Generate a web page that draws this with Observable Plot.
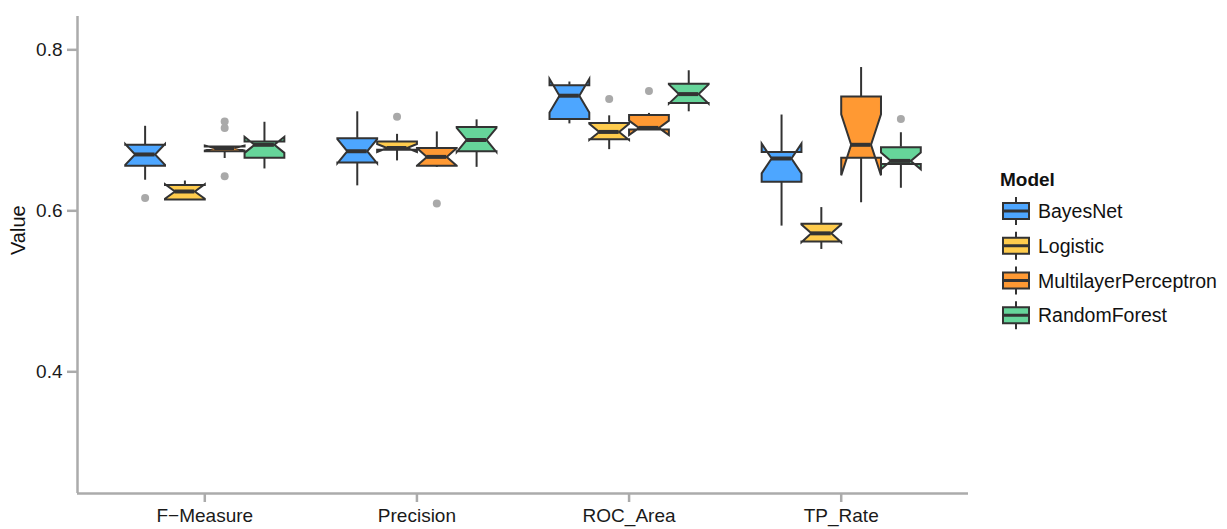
<!DOCTYPE html>
<html>
<head>
<meta charset="utf-8">
<script src="https://cdn.jsdelivr.net/npm/d3@7"></script>
<script src="https://cdn.jsdelivr.net/npm/@observablehq/plot@0.6"></script>
<style>
  body { margin: 0; background: #fff; font-family: "Liberation Sans", Arial, Helvetica, sans-serif; }
  #wrap { position: relative; width: 1227px; height: 529px; overflow: hidden; }
  #chart { position: absolute; left: 0; top: 0; }
  #legend { position: absolute; left: 1000px; top: 0; }
</style>
</head>
<body>
<div id="wrap"><div id="chart"></div><div id="legend"></div></div>
<script>
// ---------- data ----------
const metrics = ["F\u2212Measure", "Precision", "ROC_Area", "TP_Rate"];
const models = ["BayesNet", "Logistic", "MultilayerPerceptron", "RandomForest"];
const modelColors = ["#4DA6FF", "#FFCC4D", "#FF9933", "#66D59A"];

// rows = metric, columns = model
const whiskerLow = [
  [0.638, 0.613, 0.665, 0.652],
  [0.631, 0.662, 0.654, 0.654],
  [0.708, 0.676, 0.701, 0.723],
  [0.581, 0.552, 0.610, 0.628]
];
const quartile1 = [
  [0.656, 0.614, 0.674, 0.666],
  [0.660, 0.676, 0.656, 0.674],
  [0.714, 0.689, 0.701, 0.734],
  [0.636, 0.562, 0.666, 0.658]
];
const medians = [
  [0.670, 0.624, 0.678, 0.682],
  [0.674, 0.678, 0.667, 0.688],
  [0.743, 0.698, 0.703, 0.745],
  [0.665, 0.572, 0.682, 0.662]
];
const quartile3 = [
  [0.682, 0.632, 0.680, 0.686],
  [0.690, 0.686, 0.678, 0.704],
  [0.756, 0.709, 0.719, 0.758],
  [0.673, 0.584, 0.742, 0.679]
];
const whiskerHigh = [
  [0.705, 0.637, 0.680, 0.710],
  [0.723, 0.695, 0.698, 0.713],
  [0.760, 0.718, 0.721, 0.774],
  [0.719, 0.604, 0.778, 0.697]
];
const runsPerBox = 10;

const outlierMetric = [0, 0, 0, 0, 1, 1, 2, 2, 3];
const outlierModel  = [0, 2, 2, 2, 1, 2, 1, 2, 3];
const outlierValue  = [0.616, 0.711, 0.703, 0.643, 0.717, 0.609, 0.739, 0.749, 0.714];

const yTicks = [0.4, 0.6, 0.8];

// ---------- derived geometry (in data units) ----------
const dodge = 0.75, boxW = dodge / models.length;
const boxes = [];
metrics.forEach((met, k) => models.forEach((mod, m) => {
  const xc = k + (m - (models.length - 1) / 2) * boxW;
  const q1 = quartile1[k][m], q3 = quartile3[k][m], med = medians[k][m];
  const nh = 1.58 * (q3 - q1) / Math.sqrt(runsPerBox);
  boxes.push({k, m, model: mod, xc, xmin: xc - boxW / 2, xmax: xc + boxW / 2,
    lo: whiskerLow[k][m], q1, med, q3, hi: whiskerHigh[k][m], nl: med - nh, nu: med + nh});
}));
const poly = boxes.flatMap((b, i) => {
  const ind = (b.xmax - b.xmin) / 4;
  return [
    [b.xmin, b.q3], [b.xmin, b.nu], [b.xmin + ind, b.med], [b.xmin, b.nl], [b.xmin, b.q1],
    [b.xmax, b.q1], [b.xmax, b.nl], [b.xmax - ind, b.med], [b.xmax, b.nu], [b.xmax, b.q3]
  ].map(([x, y]) => ({id: i, model: b.model, x, y}));
});
const whiskers = boxes.flatMap(b => [
  {x: b.xc, y1: b.q3, y2: b.hi},
  {x: b.xc, y1: b.lo, y2: b.q1}
]);
const medianSegs = boxes.map(b => {
  const ind = (b.xmax - b.xmin) / 4;
  return {y: b.med, x1: b.xmin + ind, x2: b.xmax - ind};
});
const outliers = outlierValue.map((v, i) => ({
  x: outlierMetric[i] + (outlierModel[i] - (models.length - 1) / 2) * boxW,
  y: v
}));

const xDomain = [-0.6, metrics.length - 1 + 0.6];
const yDomain = [0.2488, 0.8414];
const axisColor = "#ABABAB";
const ink = "#333333";

const chart = Plot.plot({
  width: 985,
  height: 529,
  marginLeft: 77,
  marginRight: 17,
  marginTop: 16,
  marginBottom: 36,
  style: {fontFamily: '"Liberation Sans", Arial, Helvetica, sans-serif', background: "#fff", color: "#1a1a1a"},
  x: {domain: xDomain, axis: null},
  y: {domain: yDomain, axis: null},
  color: {domain: models, range: modelColors},
  marks: [
    Plot.ruleX([xDomain[0]], {stroke: axisColor, strokeWidth: 2.5}),
    Plot.ruleY([yDomain[0]], {stroke: axisColor, strokeWidth: 2.5}),
    Plot.axisY({ticks: yTicks, tickFormat: d3.format(".1f"), tickSize: 10, tickPadding: 5,
      stroke: axisColor, strokeWidth: 2.5, fill: "#1a1a1a", fontSize: 19, label: null}),
    Plot.axisX({ticks: d3.range(metrics.length), tickFormat: i => metrics[i], tickSize: 9, tickPadding: 6,
      stroke: axisColor, strokeWidth: 2.5, fill: "#1a1a1a", fontSize: 19, label: null}),
    Plot.text(["Value"], {frameAnchor: "left", rotate: -90, dx: -59, fontSize: 20, fill: "#111"}),
    Plot.dot(outliers, {x: "x", y: "y", r: 4, fill: "#A9A9A9", stroke: null}),
    Plot.ruleX(whiskers, {x: "x", y1: "y1", y2: "y2", stroke: ink, strokeWidth: 2}),
    Plot.line(poly, {x: "x", y: "y", z: "id", fill: "model", stroke: ink, strokeWidth: 2,
      curve: "linear-closed", strokeLinejoin: "miter", strokeMiterlimit: 4}),
    Plot.ruleY(medianSegs, {y: "y", x1: "x1", x2: "x2", stroke: ink, strokeWidth: 4})
  ]
});
document.getElementById("chart").append(chart);

// ---------- legend ----------
const lg = d3.select("#legend").append("svg").attr("width", 227).attr("height", 529)
  .style("font-family", '"Liberation Sans", Arial, Helvetica, sans-serif');
lg.append("text").attr("x", 0).attr("y", 186).attr("font-weight", "bold")
  .attr("font-size", 19).attr("fill", "#111").text("Model");
models.forEach((mod, i) => {
  const cy = 211 + i * 34.75;
  const g = lg.append("g");
  g.append("line").attr("x1", 16).attr("x2", 16).attr("y1", cy - 14).attr("y2", cy + 14)
    .attr("stroke", ink).attr("stroke-width", 2);
  g.append("rect").attr("x", 3).attr("y", cy - 8).attr("width", 26).attr("height", 16)
    .attr("fill", modelColors[i]).attr("stroke", ink).attr("stroke-width", 2);
  g.append("line").attr("x1", 3).attr("x2", 29).attr("y1", cy).attr("y2", cy)
    .attr("stroke", ink).attr("stroke-width", 3);
  g.append("text").attr("x", 38).attr("y", cy + 7).attr("font-size", 19.5).attr("fill", "#111").text(mod);
});
</script>
</body>
</html>
